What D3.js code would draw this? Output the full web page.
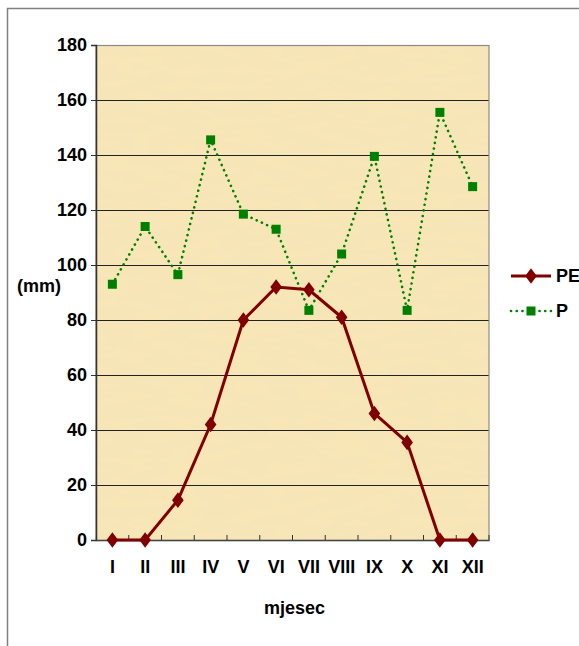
<!DOCTYPE html>
<html>
<head>
<meta charset="utf-8">
<script src="https://cdn.jsdelivr.net/npm/d3@7"></script>
<style>
  body { margin: 0; background: #fff; }
  text { font-family: Arial, "Liberation Sans", sans-serif; font-weight: bold; fill: #000; }
</style>
</head>
<body>
<script>
var months = ["I", "II", "III", "IV", "V", "VI", "VII", "VIII", "IX", "X", "XI", "XII"];
var pe = [0, 0, 14.5, 42, 80, 92, 91, 81, 46, 35.5, 0, 0];
var p = [93, 114, 96.5, 145.5, 118.5, 113, 83.5, 104, 139.5, 83.5, 155.5, 128.5];
var yTicks = [0, 20, 40, 60, 80, 100, 120, 140, 160, 180];

var w = 579, h = 646;
var plotL = 96, plotR = 489, plotT = 45, plotB = 540;
var fontSize = "18px";

var svg = d3.select("body").append("svg").attr("width", w).attr("height", h);

// outer frame
svg.append("rect")
    .attr("x", 7.5).attr("y", 8.5)
    .attr("width", w).attr("height", h)
    .attr("fill", "#fff").attr("stroke", "#808080").attr("stroke-width", 1.5);

// papyrus-ish background: flat colour plus a faint fibre texture
var defs = svg.append("defs");
var f = defs.append("filter").attr("id", "paper").attr("x", 0).attr("y", 0).attr("width", 1).attr("height", 1);
f.append("feTurbulence").attr("type", "fractalNoise").attr("baseFrequency", "0.03 0.12").attr("numOctaves", 3).attr("seed", 7).attr("result", "n");
f.append("feColorMatrix").attr("in", "n").attr("type", "matrix")
    .attr("values", "0 0 0 0 0.85  0 0 0 0 0.74  0 0 0 0 0.48  0 0 0 0.45 -0.12").attr("result", "c");
f.append("feComposite").attr("in", "c").attr("in2", "SourceGraphic").attr("operator", "over");

var x = d3.scaleBand().domain(months).range([plotL, plotR]);
var y = d3.scaleLinear().domain([0, 180]).range([plotB, plotT]);

svg.append("rect")
    .attr("x", plotL).attr("y", plotT)
    .attr("width", plotR - plotL).attr("height", plotB - plotT)
    .attr("fill", "#f8e6b6")
    .attr("filter", "url(#paper)");

// gridlines
svg.append("g").selectAll("line")
    .data(yTicks.filter(function (d) { return d > 0 && d < 180; }))
    .enter().append("line")
    .attr("x1", plotL).attr("x2", plotR)
    .attr("y1", function (d) { return Math.round(y(d)) + 0.5; })
    .attr("y2", function (d) { return Math.round(y(d)) + 0.5; })
    .attr("stroke", "#222").attr("stroke-width", 1);

// plot border
svg.append("rect")
    .attr("x", plotL).attr("y", plotT + 0.5)
    .attr("width", plotR - plotL).attr("height", plotB - plotT)
    .attr("fill", "none").attr("stroke", "#8a8a8a").attr("stroke-width", 1.2);

// y axis
var yAxis = svg.append("g")
    .attr("transform", "translate(" + plotL + ",0)")
    .call(d3.axisLeft(y).tickValues(yTicks).tickSize(5).tickPadding(4));
yAxis.select(".domain").attr("stroke", "#333").attr("stroke-width", 1.5);
yAxis.selectAll(".tick line").attr("stroke", "#333");
yAxis.selectAll("text").attr("font-size", fontSize).attr("font-family", "Arial, 'Liberation Sans', sans-serif").attr("font-weight", "bold").attr("fill", "#000");

// x axis
var xAxis = svg.append("g")
    .attr("transform", "translate(0," + plotB + ")")
    .call(d3.axisBottom(x).tickSize(0).tickPadding(20));
xAxis.select(".domain").attr("stroke", "#444").attr("stroke-width", 1.5);
xAxis.selectAll("text").attr("font-size", fontSize).attr("font-family", "Arial, 'Liberation Sans', sans-serif").attr("font-weight", "bold").attr("fill", "#000");

// x ticks at category boundaries, pointing inward
svg.append("g").selectAll("line")
    .data(months)
    .enter().append("line")
    .attr("x1", function (d) { return x(d) + x.bandwidth(); })
    .attr("x2", function (d) { return x(d) + x.bandwidth(); })
    .attr("y1", plotB).attr("y2", plotB - 5)
    .attr("stroke", "#333");

// axis titles
svg.append("text").attr("x", 39).attr("y", 292).attr("text-anchor", "middle")
    .attr("font-size", fontSize).text("(mm)");
svg.append("text").attr("x", (plotL + plotR) / 2 + 2).attr("y", 614).attr("text-anchor", "middle")
    .attr("font-size", fontSize).text("mjesec");

var cx = function (d, i) { return x(months[i]) + x.bandwidth() / 2; };

// P series
var lineP = d3.line().x(cx).y(function (d) { return y(d); });
svg.append("path").datum(p)
    .attr("d", lineP)
    .attr("fill", "none").attr("stroke", "#008000")
    .attr("stroke-width", 2.6).attr("stroke-linecap", "round")
    .attr("stroke-dasharray", "0.1,5.6");
svg.append("g").selectAll("rect")
    .data(p).enter().append("rect")
    .attr("x", function (d, i) { return cx(d, i) - 4.5; })
    .attr("y", function (d) { return y(d) - 4.5; })
    .attr("width", 9).attr("height", 9)
    .attr("fill", "#008000");

// PE series
var linePE = d3.line().x(cx).y(function (d) { return y(d); });
svg.append("path").datum(pe)
    .attr("d", linePE)
    .attr("fill", "none").attr("stroke", "#800000").attr("stroke-width", 3);
var diamond = d3.symbol().type(d3.symbolDiamond).size(70);
svg.append("g").selectAll("path")
    .data(pe).enter().append("path")
    .attr("d", diamond)
    .attr("transform", function (d, i) { return "translate(" + cx(d, i) + "," + y(d) + ") scale(1.3,1)"; })
    .attr("fill", "#800000");

// legend
var lg = svg.append("g");
lg.append("line").attr("x1", 511).attr("x2", 551).attr("y1", 276).attr("y2", 276)
    .attr("stroke", "#800000").attr("stroke-width", 3);
lg.append("path").attr("d", diamond).attr("transform", "translate(531,276) scale(1.3,1)").attr("fill", "#800000");
lg.append("text").attr("x", 556).attr("y", 282).attr("font-size", fontSize).text("PE");

lg.append("line").attr("x1", 511).attr("x2", 551).attr("y1", 311).attr("y2", 311)
    .attr("stroke", "#008000").attr("stroke-width", 2.6).attr("stroke-linecap", "round")
    .attr("stroke-dasharray", "0.1,5.6");
lg.append("rect").attr("x", 526.5).attr("y", 306.5).attr("width", 9).attr("height", 9).attr("fill", "#008000");
lg.append("text").attr("x", 556).attr("y", 317).attr("font-size", fontSize).text("P");
</script>
</body>
</html>
